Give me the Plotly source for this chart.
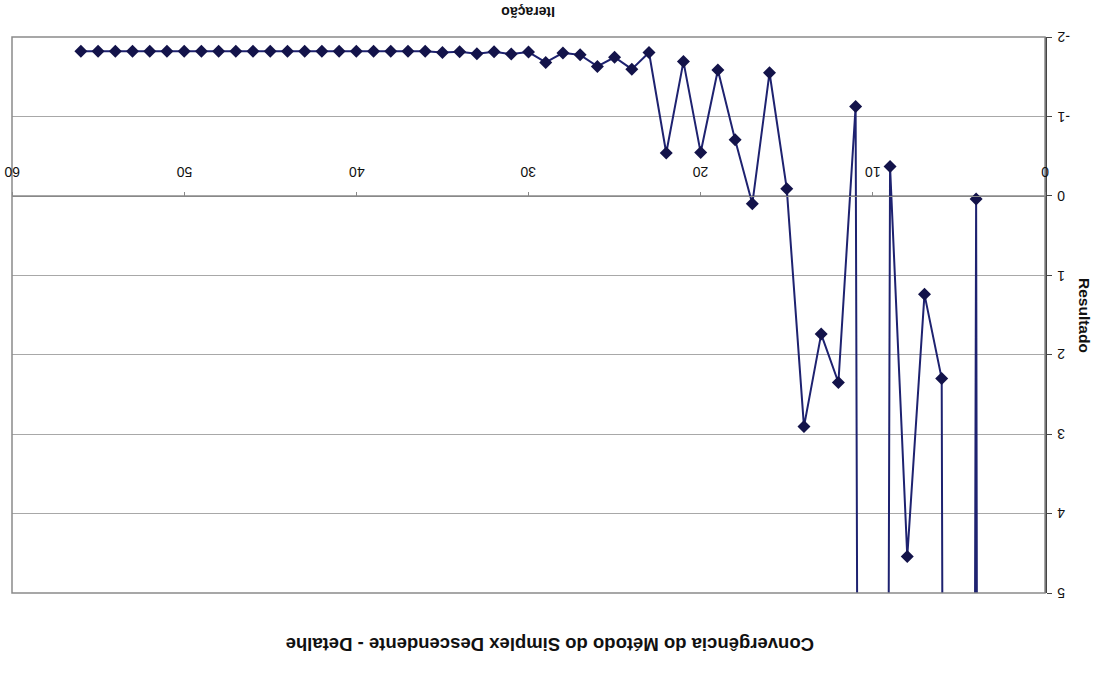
import plotly.graph_objects as go

# Data read from the (upside-down) scanned chart
iteracao = list(range(0, 57))
resultado = [
    500, 300, 200, 120, 0.04, 80, 2.30, 1.24, 4.54, -0.37,
    70, -1.125, 2.35, 1.74, 2.905, -0.09, -1.55, 0.10, -0.705, -1.585,
    -0.545, -1.69, -0.54, -1.805, -1.595, -1.745, -1.63, -1.775, -1.80, -1.68,
    -1.81, -1.785, -1.815, -1.79, -1.815, -1.805, -1.82, -1.82, -1.82, -1.82,
    -1.82, -1.82, -1.82, -1.82, -1.82, -1.82, -1.82, -1.82, -1.82, -1.82,
    -1.82, -1.82, -1.82, -1.82, -1.82, -1.82, -1.82,
]
x_ticks = [0, 10, 20, 30, 40, 50, 60]
y_ticks = [-2, -1, 0, 1, 2, 3, 4, 5]

title_text = "Convergência do Método do Simplex Descendente - Detalhe"
x_title = "Iteração"
y_title = "Resultado"

FONT = "Liberation Sans, Arial, sans-serif"

fig = go.Figure()
fig.add_trace(go.Scatter(
    x=iteracao, y=resultado, mode="lines+markers",
    line=dict(color="#1e2270", width=2),
    marker=dict(symbol="diamond", size=10, color="#13134a"),
    showlegend=False,
))

annotations = []
# x tick labels (upside down), placed on the y=0 axis line
for v in x_ticks:
    annotations.append(dict(text=str(v), xref="x", yref="y", x=v, y=0,
                            yshift=24, xanchor="center", yanchor="middle",
                            showarrow=False, textangle=180,
                            font=dict(size=14, color="#111")))
# y tick labels (upside down) on the right of the axis
for v in y_ticks:
    annotations.append(dict(text=str(v), xref="paper", yref="y", x=1, y=v,
                            xshift=10, xanchor="left", yanchor="middle",
                            showarrow=False, textangle=180,
                            font=dict(size=14, color="#111")))
annotations += [
    dict(text=f"<b>{title_text}</b>", xref="paper", yref="paper",
         x=(550 - 12) / 1033, y=0, yshift=-52, xanchor="center", yanchor="middle",
         showarrow=False, textangle=180, font=dict(size=18.5, color="#111")),
    dict(text=f"<b>{x_title}</b>", xref="paper", yref="paper",
         x=0.5, y=1, yshift=25, xanchor="center", yanchor="middle",
         showarrow=False, textangle=180, font=dict(size=14, color="#111")),
    dict(text=f"<b>{y_title}</b>", xref="paper", yref="paper",
         x=1, xshift=40, y=0.5, xanchor="center", yanchor="middle",
         showarrow=False, textangle=90, font=dict(size=15.5, color="#111")),
]

fig.update_layout(
    width=1104, height=674,
    margin=dict(l=12, r=59, t=37, b=81),
    paper_bgcolor="white", plot_bgcolor="white",
    font=dict(family=FONT, color="#111"),
    xaxis=dict(
        range=[60, 0], tickvals=x_ticks, showticklabels=False,
        anchor="free", position=5 / 7, side="top",
        showline=True, linecolor="#888", linewidth=1,
        ticks="outside", ticklen=4, tickcolor="#888",
        showgrid=False, zeroline=False,
    ),
    yaxis=dict(
        range=[5, -2], tickvals=y_ticks, showticklabels=False, side="right",
        showline=True, linecolor="#444", linewidth=1.5,
        ticks="outside", ticklen=5, tickcolor="#444",
        showgrid=True, gridcolor="#a8a8a8", gridwidth=1, zeroline=False,
    ),
    shapes=[dict(type="rect", xref="paper", yref="paper", x0=0, x1=1, y0=0, y1=1,
                 line=dict(color="#8a8a8a", width=1.5), layer="above")],
    annotations=annotations,
)

fig.write_html("out.html")
